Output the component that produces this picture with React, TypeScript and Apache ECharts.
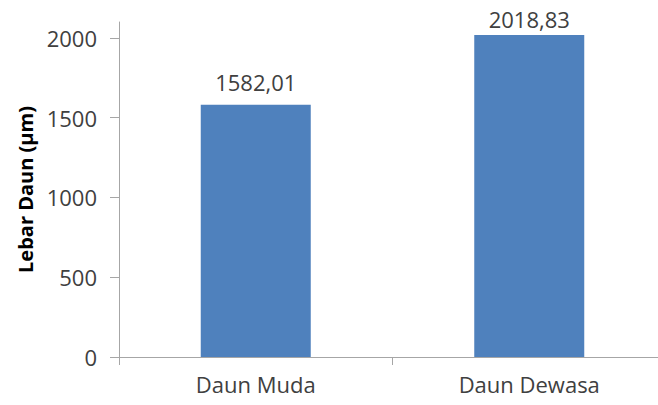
import React, { useEffect, useRef } from "react";
import * as echarts from "echarts";

const categories = ["Daun Muda", "Daun Dewasa"];
const values = [1582.01, 2018.83];
const yTicks = [0, 500, 1000, 1500, 2000];
const yAxisName = "Lebar Daun (µm)";

export default function App() {
  const ref = useRef<HTMLDivElement>(null);
  useEffect(() => {
    document.body.style.margin = "0";
    document.body.style.overflow = "hidden";
    document.documentElement.style.overflow = "hidden";
    const chart = echarts.init(ref.current!, null, { renderer: "svg" });
    const font = "'Open Sans', 'Noto Sans', sans-serif";
    const labelDistances = [12, 5];
    chart.setOption({
      animation: false,
      backgroundColor: "#ffffff",
      grid: { left: 119, top: 22, right: 0, bottom: 48, containLabel: false },
      xAxis: {
        type: "category",
        data: categories,
        boundaryGap: true,
        axisLine: { show: true, lineStyle: { color: "#A6A6A6", width: 1 } },
        axisTick: { show: true, length: 8, inside: false, lineStyle: { color: "#A6A6A6" } },
        axisLabel: { color: "#404040", fontSize: 22, fontFamily: font, margin: 16 },
        splitLine: { show: false },
      },
      yAxis: {
        type: "value",
        min: 0,
        max: 2100,
        interval: 500,
        name: yAxisName,
        nameLocation: "middle",
        nameGap: 82,
        nameRotate: 90,
        nameTextStyle: { color: "#000000", fontSize: 20, fontWeight: "bold", fontFamily: font },
        axisLine: { show: true, lineStyle: { color: "#A6A6A6", width: 1 } },
        axisTick: { show: true, length: 9, inside: false, lineStyle: { color: "#A6A6A6" }, customValues: yTicks },
        axisLabel: {
          color: "#404040",
          fontSize: 22,
          fontFamily: font,
          margin: 22,
          customValues: yTicks,
          formatter: (v: number) => (v % 500 === 0 ? String(v) : ""),
        },
        splitLine: { show: false },
      },
      series: [
        {
          type: "bar",
          data: values.map((v, i) => ({ value: v, label: { distance: labelDistances[i] } })),
          barWidth: 110,
          itemStyle: { color: "#4F81BD" },
          label: {
            show: true,
            position: "top",
            color: "#404040",
            fontSize: 22,
            fontFamily: font,
            formatter: (p: any) => Number(p.value).toFixed(2).replace(".", ","),
          },
        },
      ],
    });
    return () => chart.dispose();
  }, []);
  return <div ref={ref} style={{ width: 666, height: 405 }} />;
}
